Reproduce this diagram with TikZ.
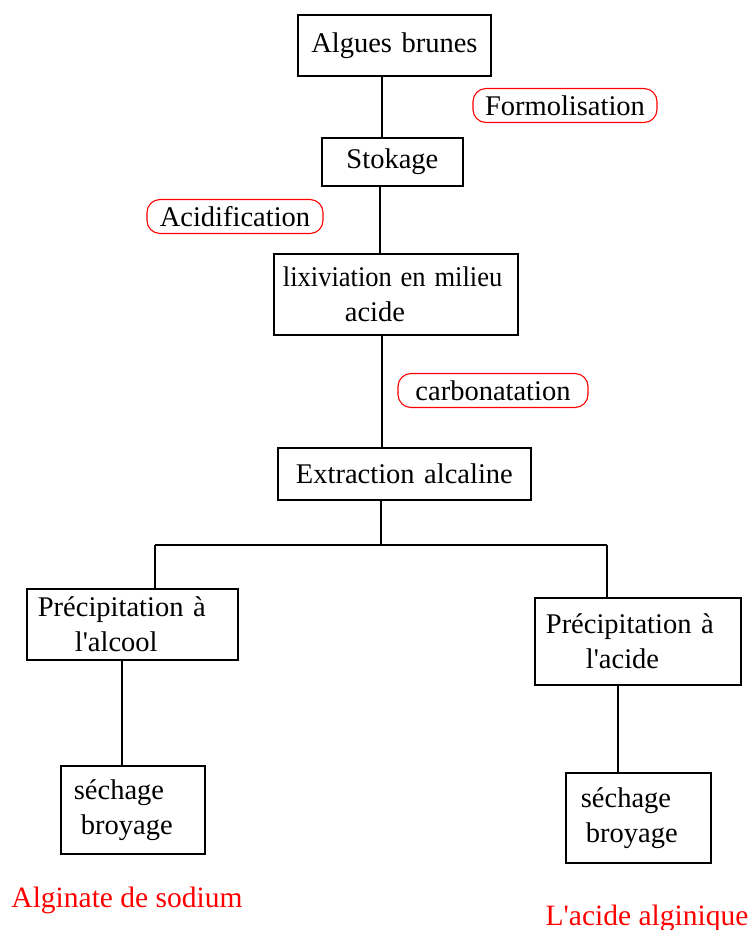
\documentclass[tikz,border=0pt]{standalone}
\usepackage{fontspec}
\setmainfont{Liberation Serif}[Ligatures=TeXOff]
\begin{document}
\begin{tikzpicture}[x=1pt,y=-1pt,
  every node/.style={font=\fontsize{28.5pt}{35pt}\selectfont},
  box/.style={draw, line width=1.8pt, anchor=north west, inner ysep=0pt},
  tag/.style={draw=red, line width=1.1pt, rounded corners=13pt, inner xsep=6pt, minimum height=34pt},
  conn/.style={line width=1.8pt},
  result/.style={text=red, anchor=base, font=\fontsize{29.5pt}{35pt}\selectfont}]
\useasboundingbox (0,0) rectangle (748,930);
% boxes
\node[box, minimum width=193pt, minimum height=61pt, align=center, text width=175pt] (a) at (297,14) {Algues brunes};
\node[box, minimum width=141pt, minimum height=48pt, align=center, text width=123pt] (b) at (321,137) {Stokage};
\node[box, minimum width=244pt, minimum height=81pt, align=left, inner xsep=9pt, text width=226pt] (c) at (273,253) {\scalebox{0.93}[1]{lixiviation en milieu}\\\hspace*{62pt}acide};
\node[box, minimum width=253pt, minimum height=52pt, align=center, text width=235pt] (d) at (277,447) {\mbox{Extraction alcaline}};
\node[box, minimum width=211pt, minimum height=71pt, align=left, inner xsep=11pt, text width=189pt] (e) at (26,588) {\mbox{Précipitation à}\\\hspace*{37pt}l'alcool};
\node[box, minimum width=206pt, minimum height=87pt, align=left, inner xsep=11pt, text width=184pt] (f) at (534,597) {\mbox{Précipitation à}\\\hspace*{40pt}l'acide};
\node[box, minimum width=144pt, minimum height=88pt, align=left, inner xsep=13pt, text width=118pt] (g) at (60,765) {séchage\\\hspace*{7pt}broyage};
\node[box, minimum width=145pt, minimum height=90pt, align=left, inner xsep=15pt, text width=115pt] (h) at (565,772) {séchage\\\hspace*{5pt}broyage};
% red tags
\node[tag, minimum width=184pt] (t1) at (565,105.5) {Formolisation};
\node[tag, minimum width=176pt] (t2) at (235,216.5) {Acidification};
\node[tag, minimum width=190pt] (t3) at (493,390.5) {carbonatation};
% results
\node[result] (r1) at (127,907) {Alginate de sodium};
\node[result] (r2) at (647,925) {L'acide alginique};
% connectors
\draw[conn] ([xshift=-12.5pt]a.south) -- ([xshift=-12.5pt]a.south |- b.north);
\draw[conn] ([xshift=-12.5pt]b.south) -- ([xshift=-12.5pt]b.south |- c.north);
\draw[conn] ([xshift=-14pt]c.south) -- ([xshift=-14pt]c.south |- d.north);
\coordinate (jl) at (155,545);
\coordinate (jr) at (607,545);
\draw[conn] ([xshift=-23.5pt]d.south) -- ([xshift=-23.5pt]d.south |- jl);
\draw[conn] (jl) -- (jr);
\draw[conn] (jl) -- (jl |- e.north);
\draw[conn] (jr) -- (jr |- f.north);
\draw[conn] ([xshift=-10.5pt]e.south) -- ([xshift=-10.5pt]e.south |- g.north);
\draw[conn] ([xshift=-20pt]f.south) -- ([xshift=-20pt]f.south |- h.north);
\end{tikzpicture}
\end{document}
